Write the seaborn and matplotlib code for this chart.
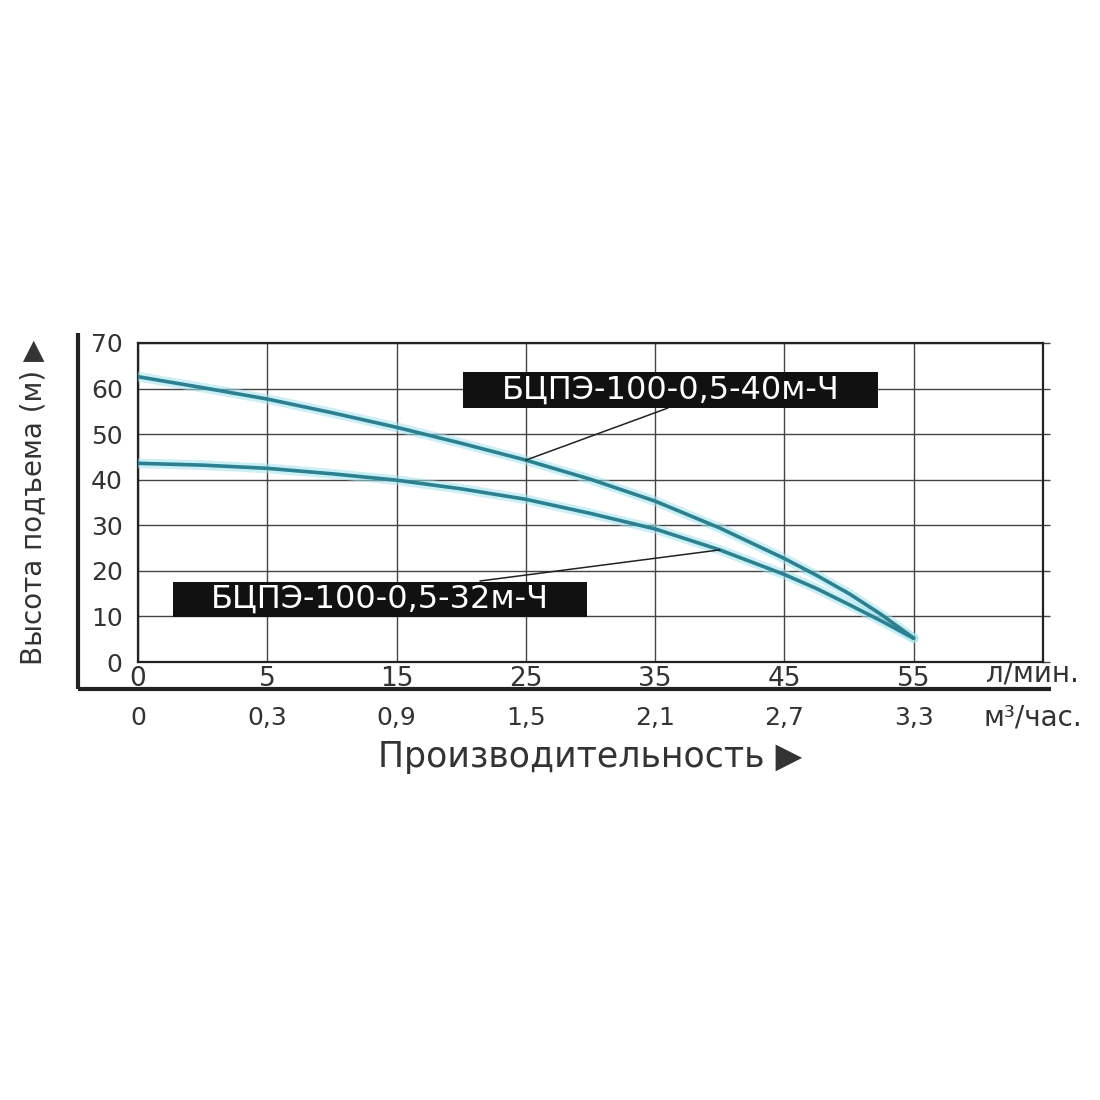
import numpy as np
import pandas as pd
import matplotlib
matplotlib.use("Agg")
import matplotlib.pyplot as plt
from matplotlib.patches import Rectangle
import seaborn as sns

# ---------------- data ----------------
flow_lpm = [0, 2.5, 5, 10, 15, 20, 25, 30, 35, 40, 45, 47.5, 50, 52.5, 55]
head_40 = [62.6, 60.2, 57.7, 54.7, 51.5, 48.0, 44.3, 40.1, 35.3, 29.4, 22.7, 19.0, 15.0, 10.4, 5.2]
head_32 = [43.6, 43.2, 42.5, 41.3, 39.9, 38.0, 35.7, 32.6, 29.2, 24.6, 19.2, 16.1, 12.6, 9.0, 5.2]
model_40 = "БЦПЭ-100-0,5-40м-Ч"
model_32 = "БЦПЭ-100-0,5-32м-Ч"

tick_lpm = [0, 5, 15, 25, 35, 45, 55]
tick_lpm_labels = ["0", "5", "15", "25", "35", "45", "55"]
tick_m3h_labels = ["0", "0,3", "0,9", "1,5", "2,1", "2,7", "3,3"]
y_ticks = [0, 10, 20, 30, 40, 50, 60, 70]
y_minor = [5, 15, 25, 35, 45, 55, 65]

# ---------------- style ----------------
sns.set_theme(style="white")
plt.rcParams["font.family"] = ["DejaVu Sans"]
TXT = "#333333"
GRID = "#444444"
CORE = "#2c8090"
HALO = "#9fe3ee"

# piecewise-linear flow axis (grid cells are equal width, tick values are not evenly spaced)
anchor_flow = [-50, 0, 5, 15, 25, 35, 45, 55, 65, 165]
anchor_pos = [-10, 0, 1, 2, 3, 4, 5, 6, 7, 17]


def fwd(x):
    return np.interp(x, anchor_flow, anchor_pos)


def inv(p):
    return np.interp(p, anchor_pos, anchor_flow)


df = pd.DataFrame({
    "flow": flow_lpm * 2,
    "head": head_40 + head_32,
    "model": [model_40] * len(flow_lpm) + [model_32] * len(flow_lpm),
})

fig = plt.figure(figsize=(11, 11), dpi=100)
rect = [138 / 1100, 1 - 662 / 1100, 905 / 1100, 319 / 1100]
ax = fig.add_axes(rect)
ax.set_xscale("function", functions=(fwd, inv))
ax.set_xlim(0, 65)
ax.set_ylim(0, 70)

# curves: soft halo + core line
sns.lineplot(data=df, x="flow", y="head", hue="model", palette=[HALO, HALO],
             linewidth=7, alpha=0.55, legend=False, ax=ax, zorder=3, sort=False)
sns.lineplot(data=df, x="flow", y="head", hue="model", palette=[CORE, CORE],
             linewidth=2.6, legend=False, ax=ax, zorder=4, sort=False)
ax.set_xlabel("")
ax.set_ylabel("")

# grid & frame
ax.set_xticks(tick_lpm)
ax.set_xticklabels(tick_lpm_labels)
ax.set_yticks(y_ticks)
ax.set_yticks(y_minor, minor=True)
ax.grid(True, which="major", color=GRID, linewidth=1.0)
for s in ax.spines.values():
    s.set_color("#222222")
    s.set_linewidth(1.6)
ax.tick_params(axis="x", which="both", length=0, pad=3, labelsize=19, labelcolor=TXT)
ax.tick_params(axis="y", which="both", direction="out", length=9, width=1,
               color=GRID, pad=2, labelsize=18, labelcolor=TXT)

# short outward ticks on the right border
axr = ax.secondary_yaxis("right")
axr.set_yticks(y_ticks)
axr.set_yticklabels([])
axr.tick_params(direction="out", length=5, width=1, color=GRID)
axr.spines["right"].set_visible(False)

# thick outer axis lines
ax.plot([-0.0663, -0.0663], [-0.0846, 1.031], transform=ax.transAxes, color="#222222",
        linewidth=3, clip_on=False, solid_capstyle="butt", zorder=5)
ax.plot([-0.0663, 1.009], [-0.0846, -0.0846], transform=ax.transAxes, color="#222222",
        linewidth=3, clip_on=False, solid_capstyle="butt", zorder=5)

# second tick row (m3/h) on an overlay axes with the same flow scale
ax2 = fig.add_axes(rect)
ax2.set_xscale("function", functions=(fwd, inv))
ax2.set_xlim(ax.get_xlim())
ax2.set_ylim(0, 1)
ax2.patch.set_visible(False)
for name, s in ax2.spines.items():
    s.set_visible(False)
ax2.spines["bottom"].set_position(("axes", -0.0846))
ax2.set_yticks([])
ax2.set_xticks(tick_lpm)
ax2.set_xticklabels(tick_m3h_labels)
ax2.tick_params(axis="x", direction="out", length=9, width=1, color=GRID,
                pad=3, labelsize=18, labelcolor=TXT)

# model labels
boxes = [
    (model_40, (463 - 138) / 905, (662 - 408) / 319, 415 / 905, 36 / 319,
     (668 - 138) / 905, (662 - 408) / 319, flow_lpm[6], head_40[6]),
    (model_32, (173 - 138) / 905, (662 - 617) / 319, 414 / 905, 35 / 319,
     (480 - 138) / 905, (662 - 581) / 319, flow_lpm[9], head_32[9]),
]
for text, x0, y0, w, h, lx, ly, cx, cy in boxes:
    ax.add_patch(Rectangle((x0, y0), w, h, transform=ax.transAxes, facecolor="#111111",
                           edgecolor="none", zorder=6, clip_on=False))
    ax.text(x0 + w / 2, y0 + h / 2, text, transform=ax.transAxes, ha="center",
            va="center", color="white", fontsize=23, zorder=7)
    ax.annotate("", xy=(cx, cy), xycoords="data", xytext=(lx, ly),
                textcoords="axes fraction",
                arrowprops=dict(arrowstyle="-", color="#222222", lw=1.1,
                                shrinkA=0, shrinkB=0), zorder=5)

# axis titles and units
fig.text(33 / 1100, 1 - 502 / 1100, "Высота подъема (м) ▶", rotation=90,
         ha="center", va="center", fontsize=20, color=TXT)
fig.text(590 / 1100, 1 - 757 / 1100, "Производительность ▶", ha="center",
         va="center", fontsize=25, color=TXT)
fig.text(1032 / 1100, 1 - 674 / 1100, "л/мин.", ha="center", va="center",
         fontsize=20, color=TXT)
fig.text(1033 / 1100, 1 - 717 / 1100, "м³/час.", ha="center", va="center",
         fontsize=20, color=TXT)

fig.savefig("out.png", dpi=100, facecolor="white")
